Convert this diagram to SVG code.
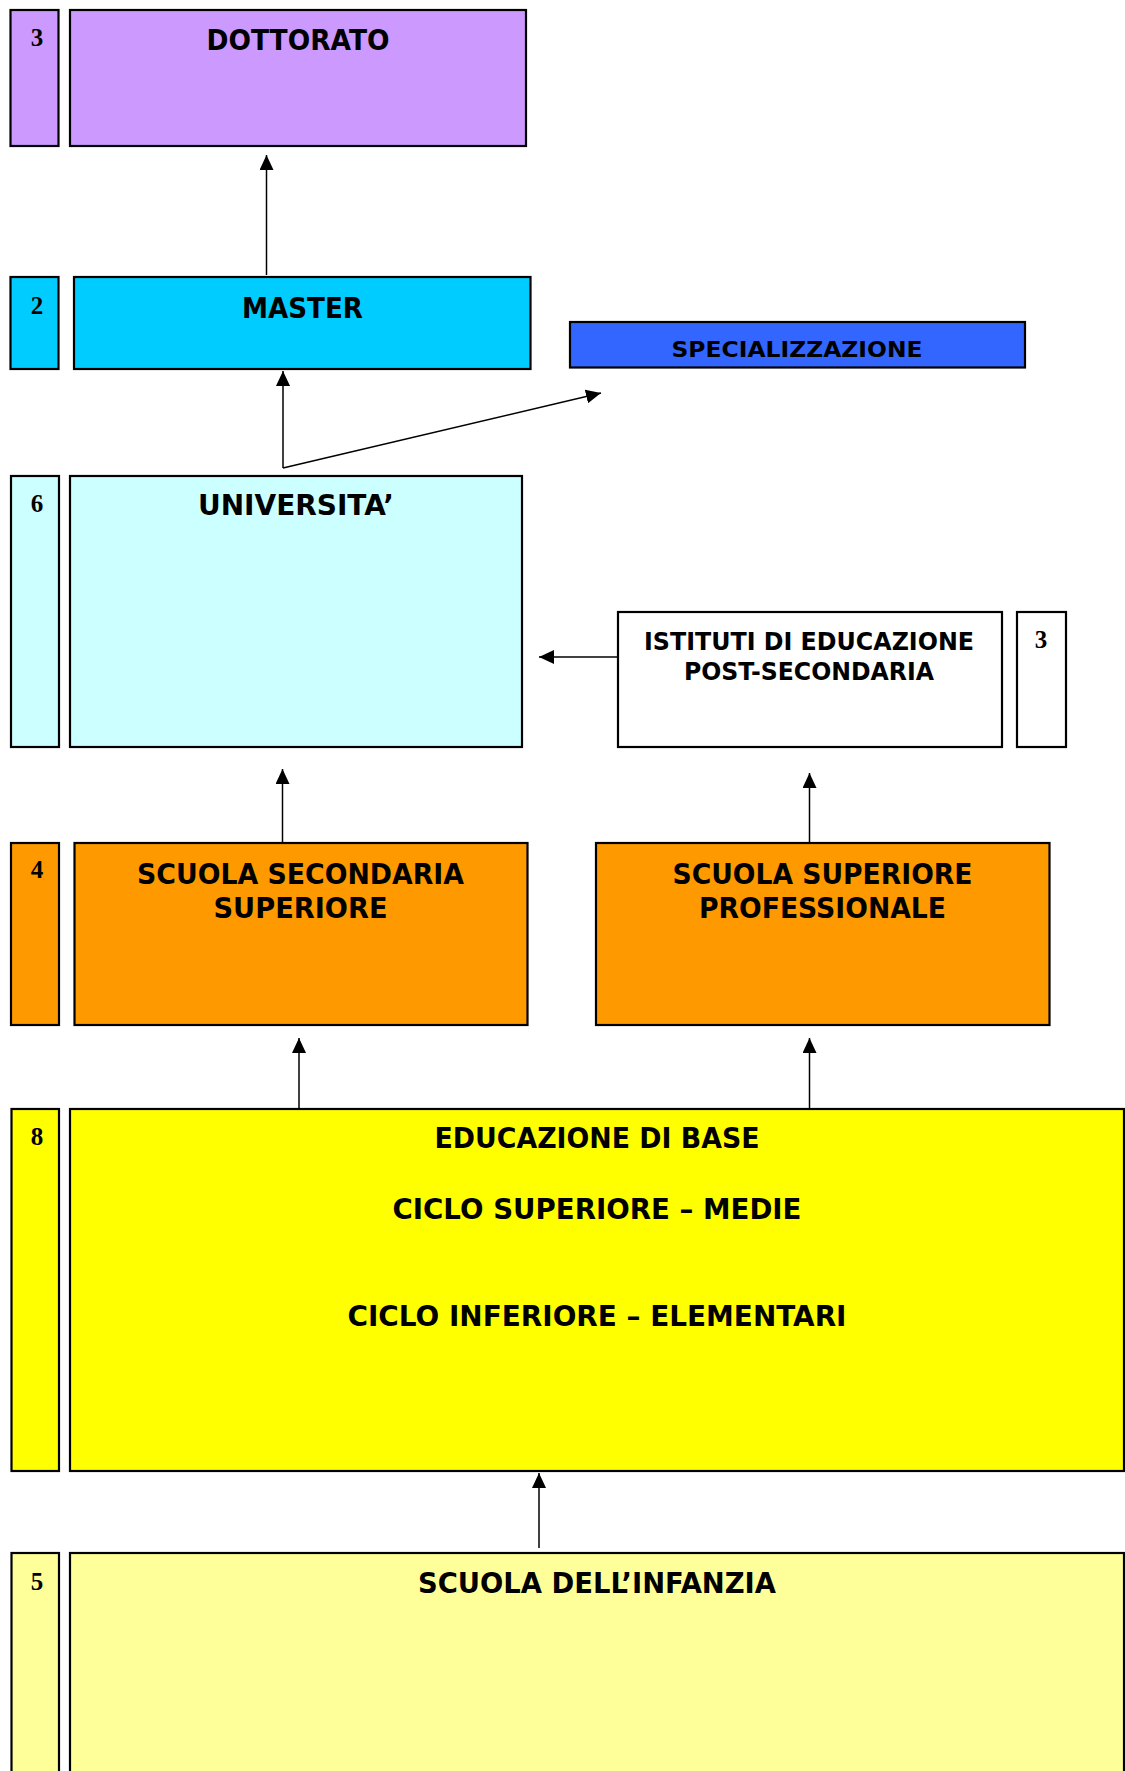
<svg xmlns="http://www.w3.org/2000/svg" width="1125" height="1771" viewBox="0 0 1125 1771">
<style>
.box{stroke:#000;stroke-width:2.2}
.t{font-family:"DejaVu Sans","Verdana",sans-serif;font-weight:bold;fill:#000;text-anchor:middle}
.n{font-family:"Liberation Serif","Times New Roman",serif;font-weight:bold;font-size:25px;fill:#000;text-anchor:middle}
.c{stroke:#000;stroke-width:1.5;fill:none}
</style>
<defs>
<marker id="ah" viewBox="0 0 15 14" refX="15" refY="7" markerWidth="15" markerHeight="14" markerUnits="userSpaceOnUse" orient="auto">
<path d="M0,0 L15,7 L0,14 z" fill="#000"/>
</marker>
</defs>
<rect width="1125" height="1771" fill="#fff"/>
<g id="connectors">
<line class="c" x1="266.5" y1="275" x2="266.5" y2="155" marker-end="url(#ah)"/>
<line class="c" x1="283" y1="468" x2="283" y2="371" marker-end="url(#ah)"/>
<line class="c" x1="283" y1="468" x2="601" y2="393" marker-end="url(#ah)"/>
<line class="c" x1="617" y1="657" x2="539" y2="657" marker-end="url(#ah)"/>
<line class="c" x1="282.5" y1="843" x2="282.5" y2="769" marker-end="url(#ah)"/>
<line class="c" x1="809.5" y1="843" x2="809.5" y2="773" marker-end="url(#ah)"/>
<line class="c" x1="299" y1="1108" x2="299" y2="1038" marker-end="url(#ah)"/>
<line class="c" x1="809.5" y1="1108" x2="809.5" y2="1038" marker-end="url(#ah)"/>
<line class="c" x1="539" y1="1548" x2="539" y2="1473" marker-end="url(#ah)"/>
</g>
<g id="num-dottorato"><rect class="box" x="10.5" y="10" width="48" height="136" fill="#CC99FF"/><text class="n" x="37" y="46">3</text></g>
<g id="dottorato"><rect class="box" x="70" y="10" width="456" height="136" fill="#CC99FF"/><text class="t" x="298" y="50" font-size="28" textLength="183" lengthAdjust="spacingAndGlyphs">DOTTORATO</text></g>
<g id="num-master"><rect class="box" x="10.5" y="277" width="48" height="92" fill="#00CCFF"/><text class="n" x="37" y="314">2</text></g>
<g id="master"><rect class="box" x="74" y="277" width="456.5" height="92" fill="#00CCFF"/><text class="t" x="302.5" y="318" font-size="28" textLength="121" lengthAdjust="spacingAndGlyphs">MASTER</text></g>
<g id="specializzazione"><rect class="box" x="570" y="322" width="455" height="45.5" fill="#3366FF"/><text class="t" x="797" y="357" font-size="22" textLength="251" lengthAdjust="spacingAndGlyphs">SPECIALIZZAZIONE</text></g>
<g id="num-universita"><rect class="box" x="11" y="476" width="48" height="271" fill="#CCFFFF"/><text class="n" x="37" y="512">6</text></g>
<g id="universita"><rect class="box" x="70" y="476" width="452" height="271" fill="#CCFFFF"/><text class="t" x="296" y="515" font-size="28" textLength="196" lengthAdjust="spacingAndGlyphs">UNIVERSITA’</text></g>
<g id="istituti"><rect class="box" x="618" y="612" width="384" height="135" fill="#fff"/><text class="t" x="809" y="650" font-size="25" textLength="330" lengthAdjust="spacingAndGlyphs">ISTITUTI DI EDUCAZIONE</text><text class="t" x="809" y="680" font-size="25" textLength="250" lengthAdjust="spacingAndGlyphs">POST-SECONDARIA</text></g>
<g id="num-istituti"><rect class="box" x="1017" y="612" width="49" height="135" fill="#fff"/><text class="n" x="1041" y="648">3</text></g>
<g id="num-secondaria"><rect class="box" x="11" y="843" width="48" height="182" fill="#FF9900"/><text class="n" x="37" y="878">4</text></g>
<g id="secondaria"><rect class="box" x="74.5" y="843" width="453" height="182" fill="#FF9900"/><text class="t" x="300.5" y="884" font-size="28" textLength="327" lengthAdjust="spacingAndGlyphs">SCUOLA SECONDARIA</text><text class="t" x="300.5" y="918" font-size="28" textLength="174" lengthAdjust="spacingAndGlyphs">SUPERIORE</text></g>
<g id="professionale"><rect class="box" x="596" y="843" width="453.5" height="182" fill="#FF9900"/><text class="t" x="822.5" y="884" font-size="28" textLength="300" lengthAdjust="spacingAndGlyphs">SCUOLA SUPERIORE</text><text class="t" x="822.5" y="918" font-size="28" textLength="247" lengthAdjust="spacingAndGlyphs">PROFESSIONALE</text></g>
<g id="num-base"><rect class="box" x="11.5" y="1109" width="47.5" height="362" fill="#FFFF00"/><text class="n" x="37" y="1145">8</text></g>
<g id="educazione-base"><rect class="box" x="70" y="1109" width="1054" height="362" fill="#FFFF00"/><text class="t" x="597" y="1148" font-size="28" textLength="325" lengthAdjust="spacingAndGlyphs">EDUCAZIONE DI BASE</text><text class="t" x="597" y="1219" font-size="28" textLength="409" lengthAdjust="spacingAndGlyphs">CICLO SUPERIORE – MEDIE</text><text class="t" x="597" y="1326" font-size="28" textLength="499" lengthAdjust="spacingAndGlyphs">CICLO INFERIORE – ELEMENTARI</text></g>
<g id="num-infanzia"><rect class="box" x="11.5" y="1553" width="47.5" height="240" fill="#FFFF99"/><text class="n" x="37" y="1590">5</text></g>
<g id="infanzia"><rect class="box" x="70" y="1553" width="1054" height="240" fill="#FFFF99"/><text class="t" x="597" y="1593" font-size="28" textLength="358" lengthAdjust="spacingAndGlyphs">SCUOLA DELL’INFANZIA</text></g>
</svg>
